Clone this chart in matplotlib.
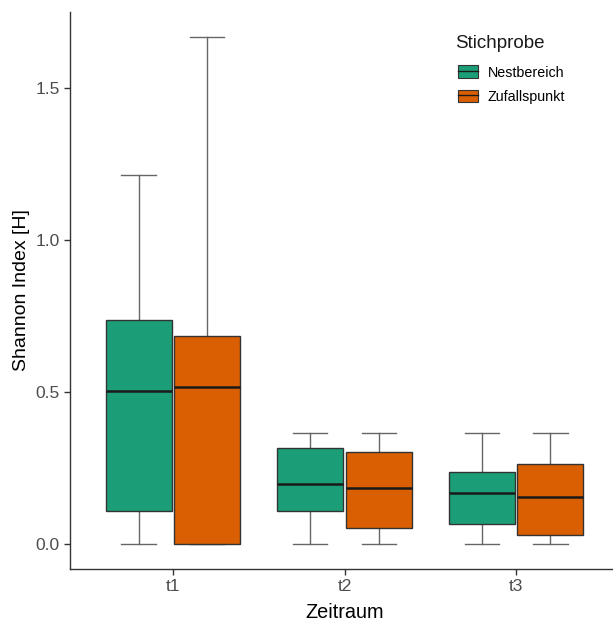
import matplotlib
matplotlib.use("Agg")
from matplotlib import pyplot as plt
from matplotlib.patches import Patch
from matplotlib.lines import Line2D
import numpy as np

plt.rcParams['font.family'] = ['Liberation Sans', 'DejaVu Sans']

# data
periods = ['t1', 't2', 't3']
groups = ['Nestbereich', 'Zufallspunkt']
colors = ['#1B9E77', '#D95F02']

# per group: values for t1, t2, t3
whislo = {'Nestbereich': [0.0, 0.0, 0.0], 'Zufallspunkt': [0.0, 0.0, 0.0]}
q1 = {'Nestbereich': [0.110, 0.110, 0.066], 'Zufallspunkt': [0.0, 0.052, 0.030]}
med = {'Nestbereich': [0.502, 0.197, 0.168], 'Zufallspunkt': [0.515, 0.186, 0.155]}
q3 = {'Nestbereich': [0.737, 0.315, 0.237], 'Zufallspunkt': [0.686, 0.302, 0.264]}
whishi = {'Nestbereich': [1.214, 0.366, 0.366], 'Zufallspunkt': [1.669, 0.366, 0.366]}

fig = plt.figure(figsize=(6.13, 6.24), dpi=100)
ax = fig.add_axes([0.1142, 0.0881, 0.8956, 0.8927])

x = np.arange(1, len(periods) + 1)
offsets = [-0.2, 0.2]
box_w = 0.385

for g, grp in enumerate(groups):
    stats = []
    for i in range(len(periods)):
        stats.append({'whislo': whislo[grp][i], 'q1': q1[grp][i], 'med': med[grp][i],
                      'q3': q3[grp][i], 'whishi': whishi[grp][i], 'fliers': []})
    ax.bxp(stats, positions=x + offsets[g], widths=box_w, patch_artist=True,
           showfliers=False, capwidths=0.2,
           boxprops=dict(facecolor=colors[g], edgecolor='#333333', linewidth=1.0, zorder=3),
           medianprops=dict(color='#1a1a1a', linewidth=1.8, zorder=4),
           whiskerprops=dict(color='#666666', linewidth=1.0, zorder=2),
           capprops=dict(color='#666666', linewidth=1.0, zorder=2),
           manage_ticks=False)

ax.set_xlim(0.4, 3.6)
ax.set_ylim(-0.082, 1.75)
ax.set_xticks(x)
ax.set_xticklabels(periods)
ax.set_yticks([0.0, 0.5, 1.0, 1.5])
ax.set_yticklabels(['0.0', '0.5', '1.0', '1.5'])
ax.tick_params(colors='#333333', labelcolor='#4D4D4D', labelsize=12.5, length=4, width=1)
for s in ['top', 'right']:
    ax.spines[s].set_visible(False)
for s in ['left', 'bottom']:
    ax.spines[s].set_color('#333333')
    ax.spines[s].set_linewidth(1.0)

ax.set_xlabel('Zeitraum', fontsize=14.3, labelpad=6)
ax.set_ylabel('Shannon Index [H]', fontsize=14, labelpad=4)

handles = []
for c in colors:
    handles.append((Patch(facecolor=c, edgecolor='#333333', linewidth=0.8),
                    Line2D([0, 1], [0, 0], color='#1a1a1a', linewidth=1.0)))
fig.text(455 / 613, 1 - 43 / 624, 'Stichprobe', fontsize=13.5, color='#1a1a1a',
         ha='left', va='center')
leg = fig.legend(handles, groups, loc='upper left',
                 bbox_to_anchor=(454 / 613, 1 - 61 / 624), frameon=False, fontsize=10.3,
                 handlelength=1.35, handleheight=1.0, handletextpad=0.7,
                 labelspacing=0.7, borderpad=0.3, borderaxespad=0)

fig.savefig('out.png', dpi=100)
